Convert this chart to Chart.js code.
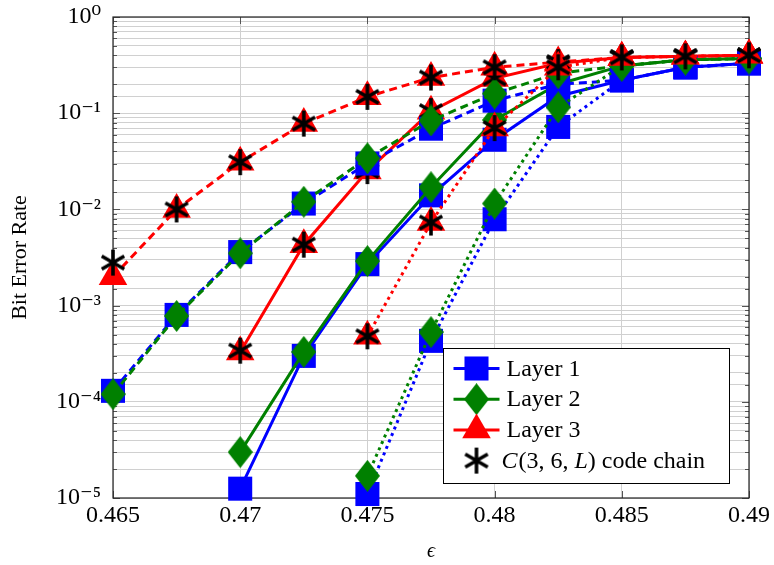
<!DOCTYPE html>
<html>
<head>
<meta charset="utf-8">
<script src="https://cdn.jsdelivr.net/npm/chart.js@4.4.1/dist/chart.umd.min.js"></script>
<style>
  html, body { margin: 0; padding: 0; background: #fff; }
</style>
</head>
<body>
<canvas id="berChart" width="774" height="565"></canvas>
<script>
// erasure probability values on the x axis
const eps = [0.465, 0.4675, 0.47, 0.4725, 0.475, 0.4775, 0.48, 0.4825, 0.485, 0.4875, 0.49];
const xTicks = [0.465, 0.47, 0.475, 0.48, 0.485, 0.49];

const layerNames = ['Layer 1', 'Layer 2', 'Layer 3'];
const chainName = ['C', '(3, 6, ', 'L', ')', ' code chain'];
const yTitle = 'Bit Error Rate';
const xTitle = '\u03f5';

// bit error rates, three curves per layer (solid, dashed, dotted)
const layer1Solid  = [null, null, 1.25e-5, 3.0e-4, 2.7e-3, 1.4e-2, 5.3e-2, 0.15, 0.22, 0.30, 0.33];
const layer1Dashed = [1.3e-4, 8.0e-4, 3.6e-3, 1.15e-2, 3.0e-2, 6.9e-2, 0.135, 0.20, 0.22, 0.30, 0.33];
const layer1Dotted = [null, null, null, null, 1.1e-5, 4.3e-4, 7.9e-3, 7.2e-2, 0.22, 0.30, 0.33];

const layer2Solid  = [null, null, 3.0e-5, 3.3e-4, 2.9e-3, 1.7e-2, 8.5e-2, 0.20, 0.31, 0.36, 0.37];
const layer2Dashed = [1.2e-4, 7.8e-4, 3.5e-3, 1.2e-2, 3.4e-2, 8.4e-2, 0.16, 0.26, 0.31, 0.36, 0.37];
const layer2Dotted = [null, null, null, null, 1.7e-5, 5.3e-4, 1.15e-2, 0.115, 0.31, 0.36, 0.37];

const layer3Solid  = [null, null, 3.3e-4, 4.3e-3, 2.5e-2, 0.105, 0.23, 0.33, 0.38, 0.39, 0.40];
const layer3Dashed = [2.0e-3, 1.0e-2, 3.1e-2, 7.8e-2, 0.148, 0.235, 0.30, 0.34, 0.38, 0.39, 0.40];
const layer3Dotted = [null, null, null, null, 4.8e-4, 7.3e-3, 7.0e-2, 0.30, 0.38, 0.39, 0.40];

const chainSolid  = [null, null, 3.4e-4, 4.3e-3, 2.5e-2, 0.105, 0.23, 0.33, 0.38, 0.39, 0.40];
const chainDashed = [2.8e-3, 1.0e-2, 3.1e-2, 7.8e-2, 0.148, 0.235, 0.30, 0.34, 0.38, 0.39, 0.40];
const chainDotted = [null, null, null, null, 4.8e-4, 7.3e-3, 7.0e-2, 0.30, 0.38, 0.39, 0.40];

const BLUE = 'rgb(0,0,255)', GREEN = 'rgb(0,128,0)', RED = 'rgb(255,0,0)';
const DASHED = [8, 5], DOTTED = [3, 4];

Chart.defaults.font.family = "'Liberation Serif', 'DejaVu Serif', serif";
Chart.defaults.color = '#000';

// tall diamond marker
const diamond = document.createElement('canvas');
diamond.width = 25; diamond.height = 32;
(function () {
  const g = diamond.getContext('2d');
  g.fillStyle = GREEN;
  g.beginPath();
  g.moveTo(12.5, 0); g.lineTo(25, 16); g.lineTo(12.5, 32); g.lineTo(0, 16);
  g.closePath();
  g.fill();
})();

// six armed asterisk marker
const asterisk = document.createElement('canvas');
asterisk.width = 32; asterisk.height = 32;
(function () {
  const g = asterisk.getContext('2d');
  g.strokeStyle = '#000';
  g.lineWidth = 3.6;
  g.beginPath();
  [90, 30, -30].forEach(a => {
    const dx = Math.cos(a * Math.PI / 180) * 13, dy = Math.sin(a * Math.PI / 180) * 13;
    g.moveTo(16 - dx, 16 - dy);
    g.lineTo(16 + dx, 16 + dy);
  });
  g.stroke();
})();

const markers = [
  { color: BLUE, style: 'rect', radius: 17 },
  { color: GREEN, style: diamond, radius: 16 },
  { color: RED, style: 'triangle', radius: 16.5 }
];

function pts(values) {
  return eps.map((x, i) => ({ x: x, y: values[i] }));
}

let drawIndex = 0;
function curve(layer, values, dash) {
  const m = markers[layer];
  return {
    label: layerNames[layer],
    data: pts(values),
    borderColor: m.color,
    backgroundColor: m.color,
    borderWidth: 3,
    borderDash: dash,
    borderCapStyle: 'butt',
    tension: 0,
    pointStyle: m.style,
    pointRadius: m.radius,
    pointBorderWidth: 0,
    pointBackgroundColor: m.color,
    clip: false,
    order: 100 - (drawIndex++)
  };
}
function chain(values) {
  return {
    label: 'code chain',
    data: pts(values),
    showLine: false,
    pointStyle: asterisk,
    pointRadius: 14,
    pointBorderWidth: 0,
    clip: false,
    order: 100 - (drawIndex++)
  };
}

const datasets = [
  curve(0, layer1Solid, []), curve(1, layer2Solid, []), curve(2, layer3Solid, []), chain(chainSolid),
  curve(0, layer1Dashed, DASHED), curve(1, layer2Dashed, DASHED), curve(2, layer3Dashed, DASHED), chain(chainDashed),
  curve(0, layer1Dotted, DOTTED), curve(1, layer2Dotted, DOTTED), curve(2, layer3Dotted, DOTTED), chain(chainDotted)
];

const SUP = { '-': '\u207b', '0': '\u2070', '1': '\u00b9', '2': '\u00b2', '3': '\u00b3', '4': '\u2074', '5': '\u2075' };

// axis frame with pgfplots style inner tick marks
const framePlugin = {
  id: 'frame',
  beforeDatasetsDraw(chart) {
    const { ctx, chartArea: a, scales } = chart;
    ctx.save();
    ctx.strokeStyle = '#555';
    ctx.lineWidth = 1;
    ctx.beginPath();
    scales.y.ticks.forEach(t => {
      const y = Math.round(scales.y.getPixelForValue(t.value)) + 0.5;
      const len = t.label ? 7 : 4;
      ctx.moveTo(a.left, y); ctx.lineTo(a.left + len, y);
      ctx.moveTo(a.right, y); ctx.lineTo(a.right - len, y);
    });
    scales.x.ticks.forEach(t => {
      const x = Math.round(scales.x.getPixelForValue(t.value)) + 0.5;
      ctx.moveTo(x, a.bottom); ctx.lineTo(x, a.bottom - 7);
      ctx.moveTo(x, a.top); ctx.lineTo(x, a.top + 7);
    });
    ctx.stroke();
    ctx.strokeStyle = '#222';
    ctx.lineWidth = 1.2;
    ctx.strokeRect(a.left, a.top, a.right - a.left, a.bottom - a.top);
    ctx.restore();
  }
};

// legend box in the lower right corner of the plot
const legendPlugin = {
  id: 'boxLegend',
  afterDraw(chart) {
    const { ctx, chartArea: a } = chart;
    const w = 286, h = 135;
    const left = Math.round(a.right - 20 - w) + 0.5, top = Math.round(a.bottom - 15 - h) + 0.5;
    ctx.save();
    ctx.fillStyle = '#fff';
    ctx.fillRect(left, top, w, h);
    ctx.strokeStyle = '#000';
    ctx.lineWidth = 1;
    ctx.strokeRect(left, top, w, h);
    ctx.font = "24px 'Liberation Serif'";
    ctx.textBaseline = 'middle';
    const mx = left + 33;
    markers.forEach((m, i) => {
      const y = top + 20 + i * 30.7;
      ctx.strokeStyle = m.color;
      ctx.lineWidth = 3;
      ctx.beginPath();
      ctx.moveTo(left + 10, y); ctx.lineTo(left + 56, y);
      ctx.stroke();
      ctx.fillStyle = m.color;
      Chart.helpers.drawPoint(ctx, { pointStyle: m.style, radius: m.radius, rotation: 0, borderWidth: 0 }, mx, y);
      ctx.fillStyle = '#000';
      ctx.fillText(layerNames[i], left + 63, y + 1);
    });
    const y = top + 20 + 3 * 30.7;
    Chart.helpers.drawPoint(ctx, { pointStyle: asterisk, radius: 14, rotation: 0, borderWidth: 0 }, mx, y);
    let tx = left + 58;
    ctx.fillStyle = '#000';
    chainName.forEach((part, i) => {
      ctx.font = (i === 0 || i === 2 ? 'italic ' : '') + "24px 'Liberation Serif'";
      ctx.fillText(part, tx, y + 1);
      tx += ctx.measureText(part).width + (i === 0 ? 1 : 0);
    });
    ctx.restore();
  }
};

new Chart(document.getElementById('berChart'), {
  type: 'line',
  data: { datasets: datasets },
  options: {
    responsive: false,
    animation: false,
    layout: { padding: { top: 13, right: 25, left: 0, bottom: 0 } },
    plugins: { legend: { display: false }, tooltip: { enabled: false } },
    scales: {
      x: {
        type: 'linear',
        min: 0.465,
        max: 0.49,
        afterBuildTicks(s) { s.ticks = xTicks.map(v => ({ value: v })); },
        afterFit(s) { s.height = 67; s.paddingLeft = 0; s.paddingRight = 0; },
        grid: { color: '#d0d0d0', drawTicks: false },
        border: { display: false },
        ticks: {
          padding: 6,
          maxRotation: 0,
          autoSkip: false,
          font: { size: 24, lineHeight: 1 },
          callback: v => String(+v.toFixed(4))
        },
        title: {
          display: true,
          text: xTitle,
          font: { size: 20, style: 'italic' },
          padding: { top: 0, bottom: 1 }
        }
      },
      y: {
        type: 'logarithmic',
        min: 1e-5,
        max: 1,
        afterFit(s) { s.width = 113; s.paddingTop = 0; s.paddingBottom = 0; },
        grid: { color: '#d0d0d0', drawTicks: false },
        border: { display: false },
        ticks: {
          padding: 12,
          autoSkip: false,
          font: { size: 24, lineHeight: 1 },
          callback: v => {
            const e = Math.log10(v);
            if (Math.abs(e - Math.round(e)) > 1e-6) return '';
            return '10' + String(Math.round(e)).split('').map(c => SUP[c]).join('');
          }
        },
        title: {
          display: true,
          text: yTitle,
          font: { size: 22 },
          padding: { top: 7, bottom: 0 }
        }
      }
    }
  },
  plugins: [framePlugin, legendPlugin]
});
</script>
</body>
</html>
